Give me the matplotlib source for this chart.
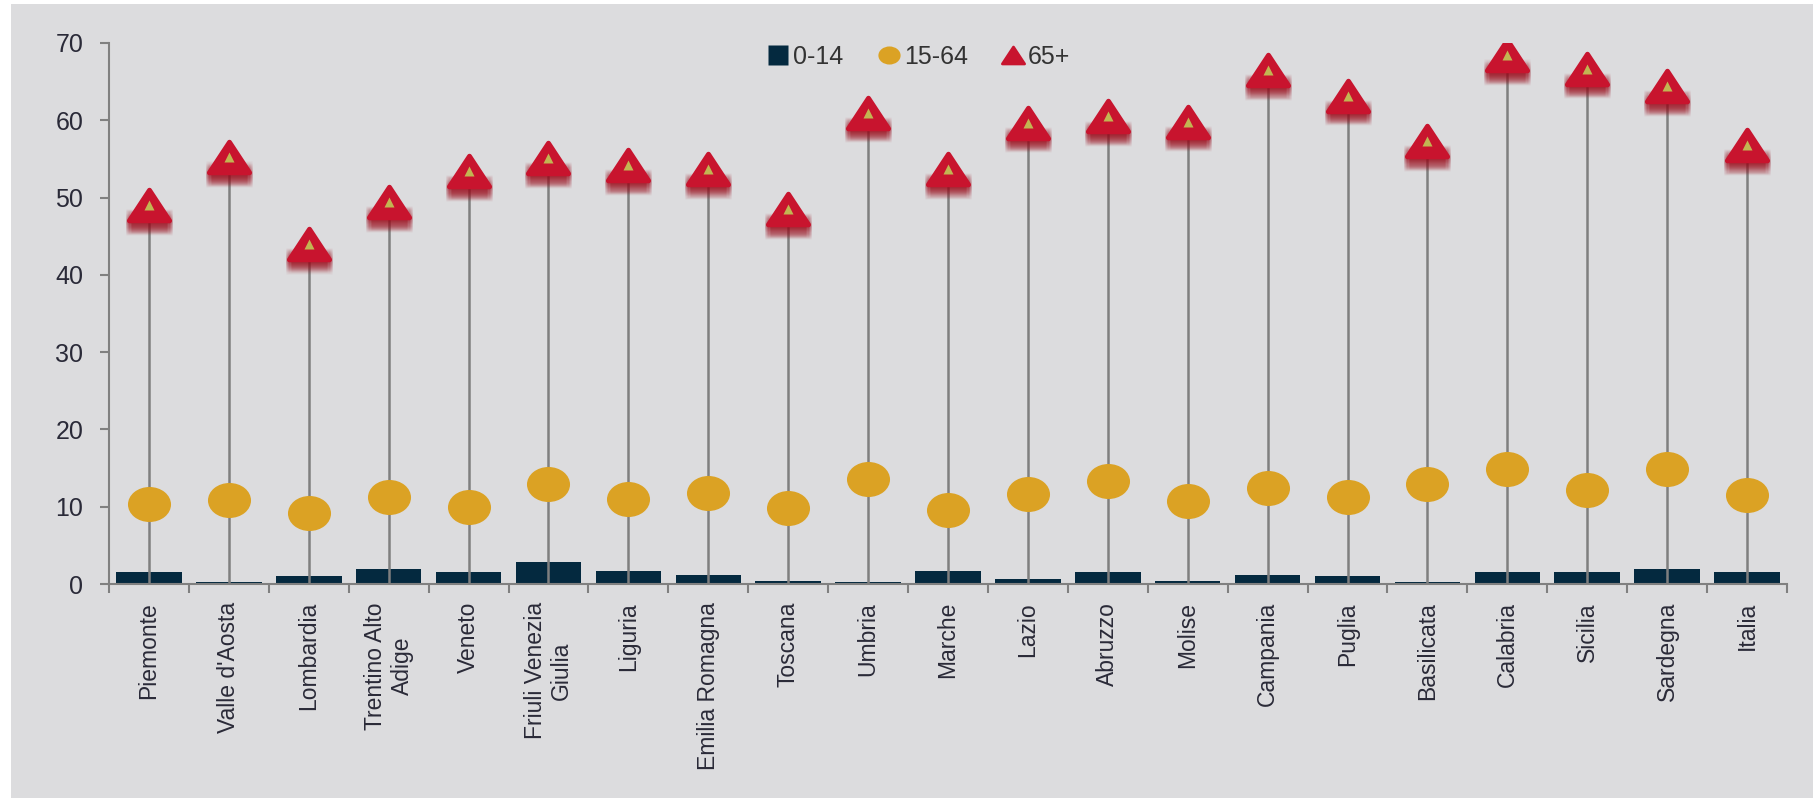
import matplotlib
matplotlib.use('Agg')
import matplotlib.pyplot as plt
import numpy as np
from matplotlib.path import Path
from matplotlib.patches import Rectangle
from matplotlib.lines import Line2D
import matplotlib.transforms as mtransforms

plt.rcParams['font.family'] = ['Liberation Sans', 'DejaVu Sans']

categories = ["Piemonte", "Valle d'Aosta", "Lombardia", "Trentino Alto\nAdige", "Veneto",
              "Friuli Venezia\nGiulia", "Liguria", "Emilia Romagna", "Toscana", "Umbria",
              "Marche", "Lazio", "Abruzzo", "Molise", "Campania", "Puglia", "Basilicata",
              "Calabria", "Sicilia", "Sardegna", "Italia"]
series_labels = ["0-14", "15-64", "65+"]
age_0_14 = [1.6, 0.2, 1.0, 2.0, 1.5, 2.8, 1.7, 1.1, 0.4, 0.25, 1.7, 0.7, 1.5, 0.4,
            1.1, 1.0, 0.2, 1.5, 1.5, 1.9, 1.5]
age_15_64 = [10.4, 10.9, 9.2, 11.3, 10.0, 13.0, 11.0, 11.8, 9.8, 13.6, 9.6, 11.6, 13.3, 10.7,
             12.4, 11.3, 13.0, 14.9, 12.1, 14.9, 11.5]
age_65 = [49.0, 55.2, 44.0, 49.4, 53.4, 55.1, 54.2, 53.7, 48.5, 61.0, 53.7, 59.7, 60.5, 59.8,
          66.5, 63.2, 57.3, 68.4, 66.7, 64.4, 56.8]
yticks = [0, 10, 20, 30, 40, 50, 60, 70]

C_BAR = '#04293F'
C_DOT = '#DBA224'
C_TRI = '#C8142E'
C_LINE = '#7F7F7F'
C_TEXT = '#2A2A38'

W, H = 1813, 798
fig = plt.figure(figsize=(W / 100, H / 100), dpi=100)
fig.patch.set_facecolor('white')
fig.patches.append(Rectangle((11 / W, 0), 1, 1 - 4 / H, transform=fig.transFigure,
                             facecolor='#DCDCDE', edgecolor='none', zorder=-10))

ax = fig.add_axes([109 / W, 1 - 584 / H, (1787 - 109) / W, (584 - 43) / H])
ax.set_facecolor('none')

x = np.arange(len(categories))

# markers
ell = mtransforms.Affine2D().scale(1.23, 1.0).transform_path(Path.unit_circle())
tri = Path([(0, 0.76), (-1, -0.76), (1, -0.76), (0, 0.76)],
           [Path.MOVETO, Path.LINETO, Path.LINETO, Path.CLOSEPOLY])
band = Path([(-1, -0.3), (1, -0.3), (1, 0.3), (-1, 0.3), (-1, -0.3)],
            [Path.MOVETO, Path.LINETO, Path.LINETO, Path.LINETO, Path.CLOSEPOLY])

ax.bar(x, age_0_14, width=0.82, color=C_BAR, zorder=2)
ax.vlines(x, 0, age_65, color=C_LINE, lw=1.8, zorder=3)
ax.plot(x, age_15_64, ls='none', marker=ell, ms=31, mfc=C_DOT, mec='none', zorder=4)

# soft blurred shadow below triangles
for dy in np.arange(8, 17, 0.75):
    for ms in (30, 26, 33):
        tr = ax.transData + mtransforms.ScaledTranslation(0, -dy / 72, fig.dpi_scale_trans)
        ax.plot(x, age_65, ls='none', marker=band, ms=ms, mfc='#A01020', mec='none',
                alpha=0.055, transform=tr, zorder=5)
ax.plot(x, age_65, ls='none', marker=tri, ms=29, mfc=C_TRI, mec=C_TRI, mew=3.5,
        zorder=6)
ax.lines[-1].set_solid_joinstyle('round')
ax.plot(x, age_65, ls='none', marker='^', ms=7, mfc='#C2B652', mec='none', zorder=7)

ax.set_xlim(-0.5, len(categories) - 0.5)
ax.set_ylim(0, 70)
ax.set_yticks(yticks)
ax.set_xticks(x)
ax.set_xticklabels(categories, rotation=90, fontsize=16.5, color=C_TEXT)
ax.set_xticks(np.arange(-0.5, len(categories), 1), minor=True)
ax.tick_params(axis='x', which='major', length=0, pad=13)
ax.tick_params(axis='x', which='minor', length=6.5, width=1.5, color='#808080')
ax.tick_params(axis='y', length=6.5, width=1.5, color='#808080', labelsize=18, pad=12,
               labelcolor=C_TEXT)
for s in ['top', 'right']:
    ax.spines[s].set_visible(False)
for s in ['left', 'bottom']:
    ax.spines[s].set_color('#808080')
    ax.spines[s].set_linewidth(1.5)

handles = [Line2D([], [], ls='none', marker='s', ms=14, mfc=C_BAR, mec='none'),
           Line2D([], [], ls='none', marker=ell, ms=16, mfc=C_DOT, mec='none'),
           Line2D([], [], ls='none', marker=tri, ms=16, mfc=C_TRI, mec=C_TRI, mew=2)]
ax.legend(handles, series_labels, ncol=3, loc='center',
          bbox_to_anchor=(918 / W, 1 - 57 / H), bbox_transform=fig.transFigure,
          frameon=False, fontsize=18, handletextpad=0.1, columnspacing=1.3,
          handlelength=1.0, labelcolor='#333333')

fig.savefig('out.png', dpi=100, facecolor=fig.get_facecolor())
